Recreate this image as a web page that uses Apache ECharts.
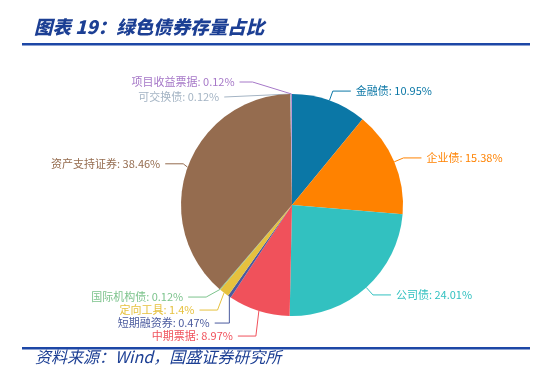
<!DOCTYPE html>
<html><head><meta charset="utf-8">
<script src="https://cdn.jsdelivr.net/npm/echarts@6/dist/echarts.min.js"></script>
<style>html,body{margin:0;padding:0;background:#fff}#c{width:550px;height:381px}</style>
</head><body><div id="c"></div>
<script>
const categories = ['金融债','企业债','公司债','中期票据','短期融资券','定向工具','国际机构债','资产支持证券','可交换债','项目收益票据'];
const values = [10.95, 15.38, 24.01, 8.97, 0.47, 1.4, 0.12, 38.46, 0.12, 0.12];
const colors = ['#0b77a6','#ff8200','#32c1c0','#f0515b','#4a5a9e','#e6c13e','#7cc38c','#956c4f','#a4b4c4','#a678c8'];
const titleText = '图表 19：绿色债券存量占比';
const sourceText = '资料来源：Wind，国盛证券研究所';

const chart = echarts.init(document.getElementById('c'));
chart.setOption({
  animation: false,
  color: colors,
  graphic: [
    {type:'text', left: 34, top: 18, style:{text: titleText, font:'italic 900 18.5px "Noto Sans CJK SC"', fill:'#1c3f94'}},
    {type:'rect', shape:{x:22,y:43,width:508,height:2.5}, style:{fill:'#1d47a6'}},
    {type:'rect', shape:{x:22,y:347,width:508,height:2.5}, style:{fill:'#1d47a6'}},
    {type:'text', left: 35, top: 349, style:{text: sourceText, font:'italic 16px "Noto Sans CJK SC"', fill:'#1c3f94'}}
  ],
  series: [{
    type: 'pie',
    center: [292, 205],
    radius: [0, 111],
    startAngle: 90,
    clockwise: true,
    avoidLabelOverlap: true,
    data: categories.map((c,i)=>({name:c, value: values[i]})),
    label: {
      formatter: '{b}: {c}%',
      fontSize: 11,
      lineHeight: 10,
      fontFamily: '"Noto Sans CJK SC"',
      color: 'inherit'
    },
    labelLine: {length: 10, length2: 18, lineStyle:{width:1}},
    labelLayout: function (p) {
      if (p.dataIndex === 9 && p.labelLinePoints) {
        const pts = p.labelLinePoints;
        const sx = -34, sy = -2;
        const end = [pts[2][0] + sx, pts[2][1] + sy];
        return {dx: sx, dy: sy, labelLinePoints: [pts[0], [end[0] + 13, end[1]], end]};
      }
      return {};
    },
    itemStyle: {borderWidth: 0}
  }]
});
</script></body></html>
